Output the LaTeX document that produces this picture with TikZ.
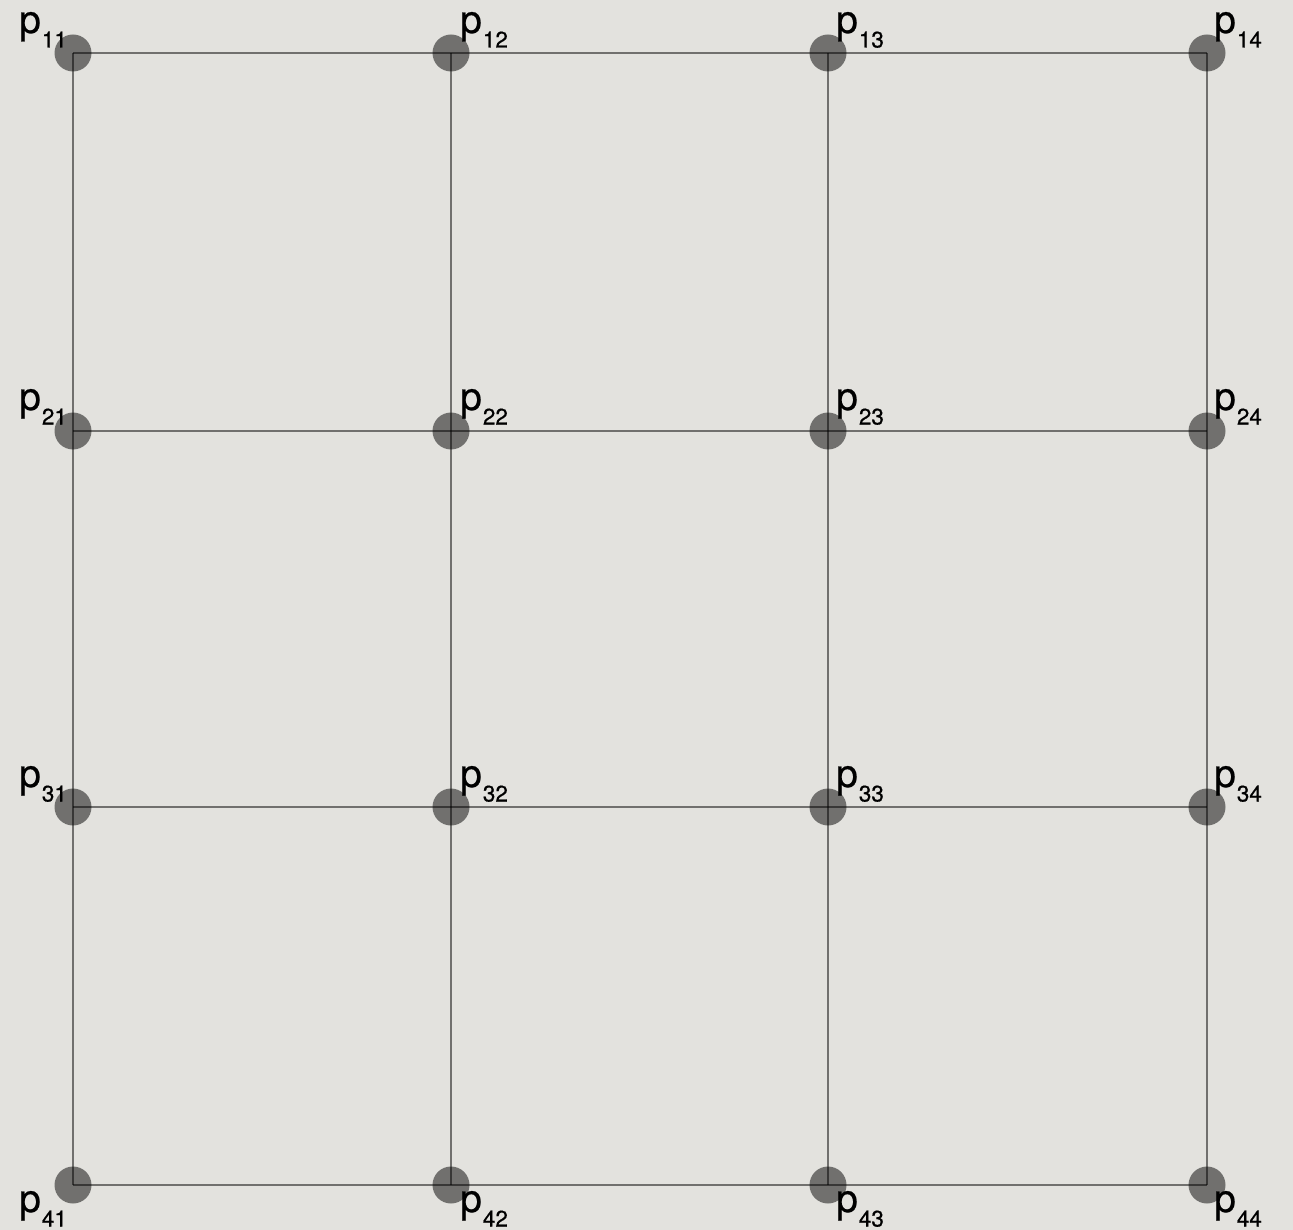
\documentclass[tikz,border=0pt]{standalone}
\usepackage{fontspec}
\setmainfont{TeX Gyre Heros}
\newfontfamily\lblfont[FakeBold=0.6]{TeX Gyre Heros}
\definecolor{bgcol}{RGB}{227,226,222}
\newcommand\plab[1]{\lblfont{\fontsize{39}{39}\selectfont p}\kern1pt{\fontsize{22.5}{22.5}\selectfont\raisebox{-14.5pt}{#1}}}
\begin{document}
\begin{tikzpicture}[x=1pt,y=-1pt,
  dotnode/.style={circle,fill=black,fill opacity=0.5,draw=none,inner sep=0pt,minimum size=37pt},
  gridline/.style={draw=black,draw opacity=0.5,line width=2.7pt},
  plabel/.style={inner sep=0pt,anchor=base west,text=black}]
\fill[bgcol] (0,0) rectangle (1293,1230);
\useasboundingbox (0,0) rectangle (1293,1230);
% dots
\foreach \r/\y in {1/53,2/431,3/807,4/1185}{
  \foreach \c/\x in {1/73,2/451,3/828,4/1207}{
    \node[dotnode] (p\r\c) at (\x,\y) {};
  }
}
% grid lines
\foreach \r in {1,2,3,4}{
  \draw[gridline] (p\r1.center) -- (p\r2.center) -- (p\r3.center) -- (p\r4.center);
}
\foreach \c in {1,2,3,4}{
  \draw[gridline] (p1\c.center) -- (p2\c.center) -- (p3\c.center) -- (p4\c.center);
}
% labels
\foreach \r/\y in {1/33,2/410,3/787,4/1212}{
  \node[plabel] (l\r1) at (19,\y) {\plab{\r1}};
  \foreach \c/\x in {2/460,3/836,4/1214}{
    \node[plabel] (l\r\c) at (\x,\y) {\plab{\r\c}};
  }
}
\end{tikzpicture}
\end{document}
